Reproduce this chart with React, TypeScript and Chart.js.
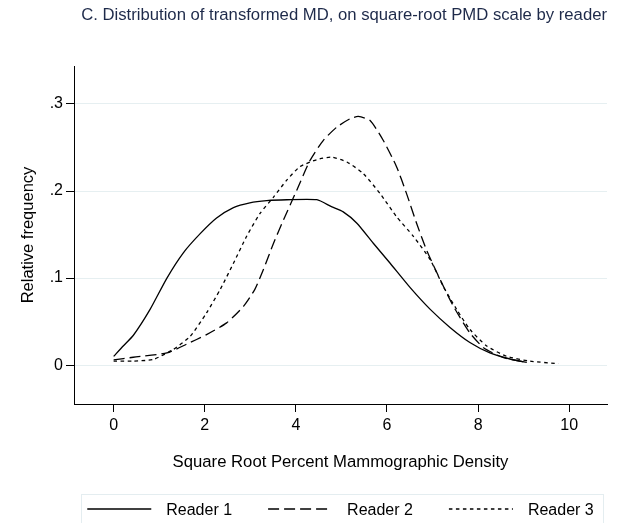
import React, { useEffect, useRef } from "react";
import { Chart, registerables } from "chart.js";

Chart.register(...registerables);

const titleText = "C. Distribution of transformed MD, on square-root PMD scale by reader";
const xAxisTitle = "Square Root Percent Mammographic Density";
const yAxisTitle = "Relative frequency";
const seriesNames = ["Reader 1", "Reader 2", "Reader 3"];
const xTicks = [0, 2, 4, 6, 8, 10];
const yTicks = [0, 0.1, 0.2, 0.3];
const yTickLabels = ["0", ".1", ".2", ".3"];

const reader1X = [0, 0.21, 0.43, 0.8, 1.17, 1.53, 1.9, 2.26, 2.63, 2.99, 3.36, 3.8, 4.46, 4.78, 5.04, 5.34, 5.7, 6.07, 6.51, 6.95, 7.39, 7.82, 8.26, 8.7, 9.07];
const reader1Y = [0.01, 0.022, 0.034, 0.064, 0.1, 0.129, 0.151, 0.169, 0.181, 0.1865, 0.189, 0.19, 0.19, 0.182, 0.176, 0.163, 0.14, 0.117, 0.089, 0.064, 0.043, 0.026, 0.014, 0.007, 0.003];

const reader2X = [0, 0.43, 1.17, 1.6, 2.04, 2.48, 2.85, 3.1, 3.29, 3.51, 3.73, 4.02, 4.31, 4.6, 4.9, 5.19, 5.37, 5.63, 5.92, 6.21, 6.43, 6.65, 6.87, 7.17, 7.46, 7.82, 8.12, 8.56, 9.07];
const reader2Y = [0.006, 0.009, 0.014, 0.024, 0.035, 0.0485, 0.0675, 0.087, 0.11, 0.14, 0.167, 0.201, 0.235, 0.258, 0.2735, 0.283, 0.2857, 0.281, 0.258, 0.228, 0.197, 0.163, 0.132, 0.098, 0.0675, 0.037, 0.02, 0.0085, 0.003];

const reader3X = [0, 0.43, 0.87, 1.31, 1.68, 2.04, 2.34, 2.63, 2.92, 3.21, 3.51, 3.8, 4.09, 4.46, 4.78, 5.12, 5.48, 5.85, 6.21, 6.58, 6.95, 7.24, 7.53, 7.82, 8.19, 8.63, 9.14, 9.76];
const reader3Y = [0.0046, 0.0046, 0.0065, 0.018, 0.033, 0.06, 0.087, 0.117, 0.148, 0.174, 0.193, 0.2125, 0.228, 0.236, 0.239, 0.2334, 0.22, 0.197, 0.1705, 0.148, 0.121, 0.09, 0.064, 0.041, 0.022, 0.01, 0.0046, 0.0016];

const FONT = "'Liberation Sans', Arial, Helvetica, sans-serif";

const toPoints = (xs: number[], ys: number[]) => xs.map((x, i) => ({ x, y: ys[i] }));

const legendPlugin = {
  id: "stataLegend",
  afterDraw(chart: any) {
    const ctx = chart.ctx as CanvasRenderingContext2D;
    const area = chart.chartArea;
    const top = chart.height - 29;
    ctx.save();
    ctx.strokeStyle = "#e4edf0";
    ctx.lineWidth = 1;
    ctx.strokeRect(Math.round(area.left + 7) + 0.5, top + 0.5, area.right - area.left - 11, 40);
    ctx.font = `16px ${FONT}`;
    const lineLen = 64;
    const gap = 15;
    const itemGap = 36;
    const ds = chart.data.datasets;
    const widths = ds.map((d: any) => ctx.measureText(d.label).width);
    const total = widths.reduce((s: number, w: number) => s + lineLen + gap + w, 0) + itemGap * (ds.length - 1);
    let x = (area.left + area.right) / 2 - total / 2;
    const lineY = top + 15;
    const textY = top + 16.5;
    ds.forEach((d: any, i: number) => {
      ctx.setLineDash(d.borderDash || []);
      ctx.strokeStyle = d.borderColor;
      ctx.lineWidth = d.borderWidth;
      ctx.beginPath();
      ctx.moveTo(x, lineY);
      ctx.lineTo(x + lineLen, lineY);
      ctx.stroke();
      ctx.setLineDash([]);
      ctx.fillStyle = "#000";
      ctx.textBaseline = "middle";
      ctx.textAlign = "left";
      ctx.fillText(d.label, x + lineLen + gap, textY);
      x += lineLen + gap + widths[i] + itemGap;
    });
    ctx.restore();
  },
};

export default function App() {
  const canvasRef = useRef<HTMLCanvasElement | null>(null);

  useEffect(() => {
    if (!canvasRef.current) return;
    const common = {
      borderColor: "#000",
      borderWidth: 1.3,
      pointRadius: 0,
      fill: false,
      tension: 0.2,
    };
    const chart = new Chart(canvasRef.current, {
      type: "line",
      data: {
        datasets: [
          { ...common, label: seriesNames[0], data: toPoints(reader1X, reader1Y), borderDash: [] },
          { ...common, label: seriesNames[1], data: toPoints(reader2X, reader2Y), borderDash: [11, 5] },
          { ...common, label: seriesNames[2], data: toPoints(reader3X, reader3Y), borderDash: [3.5, 3.5] },
        ],
      },
      options: {
        animation: false,
        responsive: false,
        layout: { padding: { left: 0, right: 26, top: 0, bottom: 43 } },
        plugins: {
          legend: { display: false },
          tooltip: { enabled: false },
          title: {
            display: true,
            text: titleText,
            fullSize: true,
            align: "end",
            color: "#1e2a4a",
            font: { family: FONT, size: 16.7, weight: "normal" },
            padding: { top: 5, bottom: 41 },
          },
        },
        scales: {
          x: {
            type: "linear",
            min: -0.87,
            max: 10.83,
            afterBuildTicks: (scale: any) => {
              scale.ticks = xTicks.map((v) => ({ value: v }));
            },
            afterFit: (scale: any) => {
              scale.height = 76;
            },
            ticks: {
              color: "#000",
              font: { family: FONT, size: 16 },
              padding: 4,
              maxRotation: 0,
              autoSkip: false,
              callback: (v: any) => String(v),
            },
            grid: { drawOnChartArea: false, drawTicks: true, tickLength: 8, tickColor: "#000" },
            border: { display: true, color: "#000", width: 1 },
            title: {
              display: true,
              text: xAxisTitle,
              color: "#000",
              font: { family: FONT, size: 16.7 },
              padding: { top: 0, bottom: 8 },
            },
          },
          y: {
            type: "linear",
            min: -0.0447,
            max: 0.3436,
            afterBuildTicks: (scale: any) => {
              scale.ticks = yTicks.map((v) => ({ value: v }));
            },
            afterFit: (scale: any) => {
              scale.width = 74;
            },
            ticks: {
              color: "#000",
              font: { family: FONT, size: 16 },
              padding: 3,
              autoSkip: false,
              callback: (v: any) => {
                const i = yTicks.findIndex((t) => Math.abs(t - v) < 1e-9);
                return i >= 0 ? yTickLabels[i] : "";
              },
            },
            grid: { color: "#e6eff1", lineWidth: 1, drawTicks: true, tickLength: 8, tickColor: "#000" },
            border: { display: true, color: "#000", width: 1 },
            title: {
              display: true,
              text: yAxisTitle,
              color: "#000",
              font: { family: FONT, size: 16.5 },
              padding: { top: 19, bottom: 0 },
            },
          },
        },
      },
      plugins: [legendPlugin],
    } as any);
    return () => chart.destroy();
  }, []);

  return (
    <div style={{ position: "fixed", left: 0, top: 0, width: 633, height: 523, background: "#fff" }}>
      <canvas ref={canvasRef} width={633} height={523} />
    </div>
  );
}
